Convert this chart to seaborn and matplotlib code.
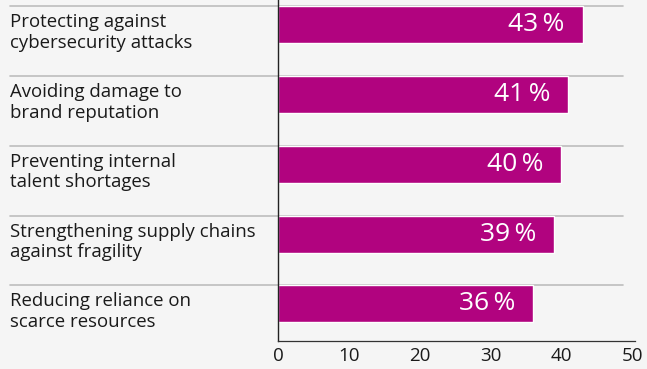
import matplotlib
matplotlib.use("Agg")
import matplotlib.pyplot as plt
import matplotlib.transforms as mtransforms
import seaborn as sns
import pandas as pd

categories = [
    "Protecting against\ncybersecurity attacks",
    "Avoiding damage to\nbrand reputation",
    "Preventing internal\ntalent shortages",
    "Strengthening supply chains\nagainst fragility",
    "Reducing reliance on\nscarce resources",
]
values = [43, 41, 40, 39, 36]
x_ticks = [0, 10, 20, 30, 40, 50]

bar_color = "#B1037F"
bg_color = "#F5F5F5"
bar_w = 0.53

sns.set_theme(style="white")
plt.rcParams["font.family"] = ["Open Sans", "DejaVu Sans"]

df = pd.DataFrame({"category": categories, "value": values})

fig = plt.figure(figsize=(6.47, 3.69), dpi=100, facecolor=bg_color)
ax = fig.add_axes([278 / 647, 1 - 341 / 369, 357 / 647, 341 / 369])
ax.set_facecolor(bg_color)

sns.barplot(data=df, x="value", y="category", orient="h", color=bar_color,
            saturation=1, width=bar_w, ax=ax)

ax.set_xlim(0, 50.4)
ax.set_ylim(4 + 0.53, -0.35)
ax.set_xticks(x_ticks)
ax.set_xticklabels([str(t) for t in x_ticks], fontsize=13.5, color="#1A1A1A")
ax.tick_params(axis="x", length=0, pad=4)
ax.set_yticks([])
ax.set_xlabel("")
ax.set_ylabel("")

for side in ["top", "right"]:
    ax.spines[side].set_visible(False)
ax.spines["left"].set_color("#222222")
ax.spines["left"].set_linewidth(1.0)
ax.spines["bottom"].set_color("#333333")
ax.spines["bottom"].set_linewidth(0.9)

# separator lines spanning label area and plot
trans = mtransforms.blended_transform_factory(fig.transFigure, ax.transData)
for i, (cat, val) in enumerate(zip(categories, values)):
    y_top = i - bar_w / 2
    ax.plot([10 / 647, 623 / 647], [y_top, y_top], transform=trans,
            color="#BDBDBD", lw=1.2, clip_on=False, zorder=0)
    ax.text(10 / 647, y_top + 0.1, cat, transform=trans, ha="left", va="top",
            fontsize=13.4, color="#1A1A1A", linespacing=1.2)
    ax.annotate(f"{val}\u2009%", xy=(val, i), xytext=(-13, 0),
                textcoords="offset points", ha="right", va="center",
                fontsize=19, color="white", fontweight="medium")

fig.savefig("out.png", dpi=100, facecolor=bg_color)
